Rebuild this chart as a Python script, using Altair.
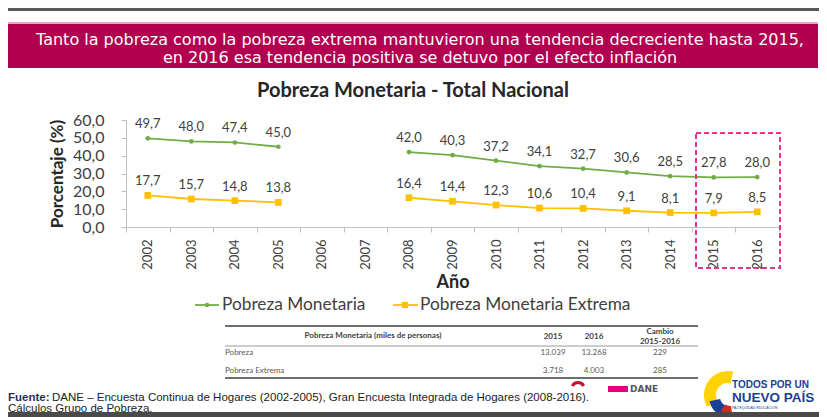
import altair as alt
import pandas as pd

# ---------------- data ----------------
years = [str(y) for y in range(2002, 2017)]
pobreza = [49.7, 48.0, 47.4, 45.0, None, None, 42.0, 40.3, 37.2, 34.1, 32.7, 30.6, 28.5, 27.8, 28.0]
extrema = [17.7, 15.7, 14.8, 13.8, None, None, 16.4, 14.4, 12.3, 10.6, 10.4, 9.1, 8.1, 7.9, 8.5]
series_names = ["Pobreza Monetaria", "Pobreza Monetaria Extrema"]
series_colors = ["#70AD47", "#FFC000"]
y_ticks = [0, 10, 20, 30, 40, 50, 60]

banner_lines = [
    "Tanto la pobreza como la pobreza extrema mantuvieron una tendencia decreciente hasta 2015,",
    "en 2016 esa tendencia positiva se detuvo por el efecto inflación",
]
chart_title = "Pobreza Monetaria - Total Nacional"
x_title = "Año"
y_title = "Porcentaje (%)"

table_header = "Pobreza Monetaria (miles de personas)"
table_cols = ["2015", "2016"]
table_change = ["Cambio", "2015-2016"]
table_rows = ["Pobreza", "Pobreza Extrema"]
table_2015 = ["13.039", "3.718"]
table_2016 = ["13.268", "4.003"]
table_cambio = ["229", "285"]

foot_bold = "Fuente:"
foot_line1 = "DANE – Encuesta Continua de Hogares (2002-2005), Gran Encuesta Integrada de Hogares (2008-2016)."
foot_line2 = "Cálculos Grupo de Pobreza."
logo_lines = ["TODOS POR UN", "NUEVO PAÍS", "PAZ     EQUIDAD     EDUCACIÓN"]

# ---------------- table for the lines ----------------
rows = []
for name, vals in zip(series_names, [pobreza, extrema]):
    for yr, v in zip(years, vals):
        if v is None:
            continue
        rows.append({
            "year": yr,
            "value": v,
            "series": name,
            "segment": name + ("-a" if int(yr) < 2006 else "-b"),
            "label": f"{v:.1f}".replace(".", ","),
        })
df = pd.DataFrame(rows)

FONT = "Lato"
one = pd.DataFrame({"t": [""]})

x_scale = alt.Scale(type="band", domain=years, paddingInner=0, paddingOuter=0)
x_enc = alt.X(
    "year:O",
    scale=x_scale,
    bandPosition=0.5,
    axis=alt.Axis(
        title=x_title, titleFont=FONT, titleFontSize=18, titleFontWeight="bold",
        titleColor="#262626", titlePadding=4,
        labelAngle=270, labelFont=FONT, labelFontSize=13, labelColor="#404040",
        labelPadding=7, tickBand="extent", tickSize=5, tickColor="#BFBFBF",
        domainColor="#BFBFBF", grid=False, labelOverlap=False,
    ),
)
y_enc = alt.Y(
    "value:Q",
    scale=alt.Scale(domain=[0, 60], nice=False, zero=True),
    axis=alt.Axis(
        title=y_title, titleFont=FONT, titleFontSize=17, titleFontWeight="bold",
        titleColor="#262626", titlePadding=6,
        values=y_ticks, tickCount=7,
        labelExpr="replace(format(datum.value, '.1f'), '.', ',')",
        labelFont=FONT, labelFontSize=16, labelColor="#404040", labelPadding=17,
        labelOverlap=False, labelSeparation=0,
        tickSize=5, tickColor="#BFBFBF", domainColor="#BFBFBF", grid=False,
    ),
)
color_enc = alt.Color("series:N", scale=alt.Scale(domain=series_names, range=series_colors), legend=None)

base = alt.Chart(df).encode(x=x_enc, y=y_enc, color=color_enc)
lines = base.mark_line(strokeWidth=1.8).encode(detail="segment:N")
pts_g = base.transform_filter(alt.datum.series == series_names[0]).mark_point(
    filled=True, shape="circle", size=22, opacity=1)
pts_y = base.transform_filter(alt.datum.series == series_names[1]).mark_square(size=45, opacity=1)
labels = alt.Chart(df).mark_text(dy=-14, fontSize=13, font=FONT, color="#404040").encode(
    x=x_enc, y=y_enc, text="label:N")


def txt(text, x, y, size, color="#404040", weight="normal", align="left", font=FONT):
    return alt.Chart(pd.DataFrame({"t": [text]})).mark_text(
        align=align, baseline="middle", fontSize=size, font=font, fontWeight=weight, color=color
    ).encode(text="t:N", x=alt.value(x), y=alt.value(y))


def rect(x, x2, y, y2, color, **kw):
    return alt.Chart(one).mark_rect(color=color, **kw).encode(
        x=alt.value(x), x2=alt.value(x2), y=alt.value(y), y2=alt.value(y2))


def hrule(x, x2, y, color, width):
    return alt.Chart(one).mark_rule(color=color, strokeWidth=width).encode(
        x=alt.value(x), x2=alt.value(x2), y=alt.value(y))


def arc(cx, cy, t1, t2, r1, r2, color):
    return alt.Chart(one).mark_arc(color=color).encode(
        x=alt.value(cx), y=alt.value(cy), theta=alt.value(t1), theta2=alt.value(t2),
        radius=alt.value(r2), radius2=alt.value(r1))


deco = []
# top bar and banner
deco.append(rect(-118, 693, -112, -109, "#5A5A5A"))
deco.append(rect(-118, 692, -98, -96, "#E9A7C2"))
deco.append(rect(-118, 692, -96, -52, "#B1004F"))
deco.append(txt(banner_lines[0], 294, -80, 16, color="white", align="center", font="DejaVu Sans"))
deco.append(txt(banner_lines[1], 294, -62, 16, color="white", align="center", font="DejaVu Sans"))
# chart title
deco.append(txt(chart_title, 287, -29, 20, color="#262626", weight="bold", align="center"))
# highlight box 2015-2016
deco.append(alt.Chart(one).mark_rect(fillOpacity=0, stroke="#E6338E", strokeWidth=2, strokeDash=[5, 3]).encode(
    x=alt.value(570), x2=alt.value(654), y=alt.value(13), y2=alt.value(148)))
# legend
leg_x = [(69, 93, 81, 96), (267, 292, 279, 294)]
for (a, b, c, tx), name, col in zip(leg_x, series_names, series_colors):
    deco.append(hrule(a, b, 185, col, 1.8))
    if col == series_colors[0]:
        deco.append(alt.Chart(one).mark_point(filled=True, shape="circle", size=22, color=col, opacity=1).encode(
            x=alt.value(c), y=alt.value(185)))
    else:
        deco.append(alt.Chart(one).mark_square(size=40, color=col, opacity=1).encode(
            x=alt.value(c), y=alt.value(185)))
    deco.append(txt(name, tx, 185, 17.3, color="#404040"))
# table
deco.append(hrule(99, 572, 206, "#6E6E6E", 2))
deco.append(hrule(99, 572, 226, "#9A9A9A", 1))
deco.append(hrule(99, 572, 258, "#6E6E6E", 2))
deco.append(txt(table_header, 247, 216, 8, color="#404040", weight="bold", align="center"))
for cx, lab in zip([427, 468], table_cols):
    deco.append(txt(lab, cx, 217, 8, color="#404040", weight="bold", align="center"))
deco.append(txt(table_change[0], 534, 212, 8, color="#404040", weight="bold", align="center"))
deco.append(txt(table_change[1], 534, 222, 8, color="#404040", weight="bold", align="center"))
for ry, r, a, b, c in zip([233, 251], table_rows, table_2015, table_2016, table_cambio):
    deco.append(txt(r, 99, ry, 8, color="#595959"))
    deco.append(txt(a, 427, ry, 8, color="#595959", align="center"))
    deco.append(txt(b, 468, ry, 8, color="#595959", align="center"))
    deco.append(txt(c, 534, ry, 8, color="#595959", align="center"))
# footnote
deco.append(txt(foot_bold, -118, 278, 11.5, color="#1F2F5C", weight="bold", font="Liberation Sans"))
deco.append(txt(foot_line1, -74, 278, 11.5, color="#222222", font="Liberation Sans"))
deco.append(txt(foot_line2, -118, 289, 11.5, color="#222222", font="Liberation Sans"))
# logos
deco.append(arc(452, 269, 5.2, 7.36, 5, 8, "#C8102E"))
deco.append(rect(482, 502, 266, 272, "#E4007C"))
deco.append(txt("DANE", 504, 269, 9, color="#555555", weight="bold", font="DejaVu Sans"))
deco.append(arc(602, 275, 4.2, 6.5, 12, 24, "#FFD200"))
deco.append(arc(603, 277, 3.5, 4.5, 9, 20, "#1B3F94"))
deco.append(arc(604, 279, 3.0, 3.8, 7, 15, "#D52B1E"))
deco.append(txt(logo_lines[0], 606, 265, 10, color="#1B3F94", weight="bold", font="Liberation Sans"))
deco.append(txt(logo_lines[1], 606, 278, 13.5, color="#1B3F94", weight="bold", font="Liberation Sans"))
deco.append(txt(logo_lines[2], 606, 288, 3.5, color="#1B3F94", font="Liberation Sans"))
# bottom bar
deco.append(rect(-118, 693, 292, 297, "#4A4A4A"))

chart = alt.layer(lines, pts_g, pts_y, labels, *deco).properties(
    width=653, height=107,
    padding={"left": 118, "top": 112, "right": 40, "bottom": 190},
    autosize=alt.AutoSizeParams(type="none"),
    background="white",
).configure_view(stroke=None)

chart.save("out.html", embed_options={"renderer": "svg", "actions": False})
